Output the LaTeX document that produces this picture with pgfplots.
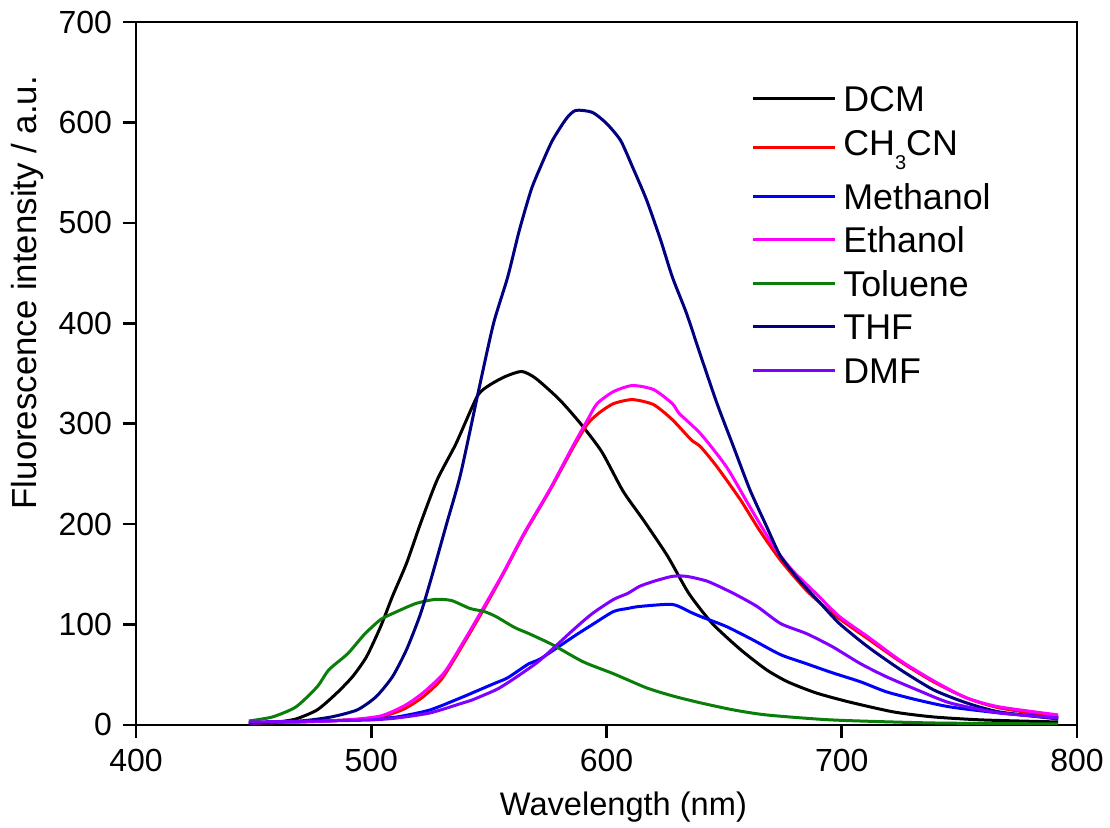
\documentclass[border=0pt]{standalone}
\usepackage{fontspec}
\setmainfont{Liberation Sans}
\usepackage{pgfplots}
\pgfplotsset{compat=1.18}
\definecolor{cthf}{HTML}{000080}
\definecolor{cgreen}{HTML}{0A7D0A}
\definecolor{cdmf}{HTML}{8000FF}
\definecolor{cred}{HTML}{FF0000}
\definecolor{cblue}{HTML}{0000FF}
\definecolor{cmag}{HTML}{FF00FF}
\begin{document}
\fontsize{16bp}{19bp}\selectfont
\begin{tikzpicture}
\begin{axis}[name=ax, scale only axis, width=470.5bp, height=351.5bp,
 xmin=400, xmax=800, ymin=0, ymax=700,
 xtick={400,500,...,800}, ytick={0,100,...,700},
 axis line style={line width=1.3bp},
 tick style={line width=1.3bp, black},
 tick align=outside, major tick length=6.5bp,
 xtick pos=bottom, ytick pos=left,
 /pgf/number format/assume math mode=true,
 /pgf/number format/1000 sep={},
 ticklabel style={font=\fontsize{16bp}{19bp}\selectfont},
 xlabel={Wavelength (nm)}, ylabel={Fluorescence intensity / a.u.},
 xlabel style={font=\fontsize{16.3bp}{19bp}\selectfont, at={(axis description cs:0.518,-0.1166)}, anchor=center},
 ylabel style={font=\fontsize{17.4bp}{20bp}\selectfont, at={(axis description cs:-0.1148,0.615)}, anchor=center},
 legend style={draw=none, fill=none, at={(axis description cs:0.6472,0.9185)}, anchor=north west,
   font=\fontsize{17.9bp}{21bp}\selectfont, row sep=6.75bp,
   nodes={inner xsep=3.5bp, inner ysep=1bp, text height=13bp, text depth=0bp}},
 legend cell align=left,
 legend image code/.code={\draw[#1] (0bp,0bp) -- (41bp,0bp);},
 every axis plot/.append style={line width=1.5bp, smooth, tension=0.4},
]
% DCM
\addplot[black] coordinates {
(448,2)(460,3)(468,6)(477,15)(485,31)(492,48)(498,68)(504,98)(509,128)(515,161)(521,201)(528,244)(536,280)(545,327)(550,338)(557,347)(564,352)(570,345)(580,324)(589,300)(598,272)(607,233)(616,203)(626,168)(635,131)(645,101)(657,75)(668,55)(677,43)(689,32)(703,23)(722,13)(739,8)(760,5)(792,3)};
\addlegendentry{DCM}
% CH3CN
\addplot[cred] coordinates {
(448,2)(470,3)(490,5)(504,8)(514,16)(522,28)(530,46)(539,80)(547,112)(556,150)(565,190)(576,234)(586,277)(592,300)(597,311)(603,320)(611,324)(620,319)(628,304)(636,284)(640,277)(647,257)(657,224)(665,194)(674,164)(685,134)(696,111)(711,86)(725,63)(739,43)(753,27)(767,17)(792,8)};
\addlegendentry[text depth=5.25bp]{CH\raisebox{-7bp}{\fontsize{10bp}{10bp}\selectfont 3}CN}
% Methanol
\addplot[cblue] coordinates {
(448,2)(480,4)(500,6)(511,8)(525,15)(539,28)(543,32)(553,42)(558,47)(567,61)(572,66)(586,88)(594,100)(603,113)(609,116)(614,118)(628,120)(636,112)(640,108)(651,98)(662,85)(674,70)(685,61)(696,52)(708,43)(719,33)(732,25)(746,18)(767,12)(792,7)};
\addlegendentry{Methanol}
% Ethanol
\addplot[cmag] coordinates {
(448,2)(470,3)(490,5)(504,9)(514,19)(522,32)(531,52)(539,82)(547,114)(556,151)(565,191)(576,235)(586,279)(592,304)(596,320)(603,332)(611,338)(620,334)(628,320)(631,310)(640,290)(651,257)(661,217)(671,178)(679,154)(689,131)(699,108)(711,88)(725,64)(739,44)(753,27)(767,18)(792,10)};
\addlegendentry{Ethanol}
% Toluene
\addplot[cgreen] coordinates {
(448,4)(458,8)(468,18)(477,38)(482,55)(490,71)(497,90)(504,105)(511,113)(519,121)(527,125)(534,124)(542,116)(548,113)(553,108)(561,97)(567,91)(577,80)(590,63)(603,51)(617,37)(628,29)(640,22)(654,15)(668,10)(696,5)(739,2)(792,1)};
\addlegendentry{Toluene}
% THF
\addplot[cthf] coordinates {
(448,2)(470,4)(483,8)(494,15)(502,28)(509,48)(515,75)(521,111)(526,150)(532,200)(538,250)(546,337)(552,400)(558,446)(563,493)(568,533)(572,556)(577,582)(583,604)(587,612)(594,610)(600,599)(606,582)(611,556)(617,523)(623,483)(628,446)(634,410)(640,368)(647,320)(654,277)(661,234)(668,198)(674,168)(682,144)(691,121)(699,101)(711,78)(725,55)(739,35)(753,22)(767,13)(792,6)};
\addlegendentry{THF}
% DMF
\addplot[cdmf] coordinates {
(448,3)(480,4)(500,5)(511,7)(525,12)(539,22)(543,25)(553,35)(558,42)(565,53)(572,65)(586,95)(594,111)(603,125)(609,131)(614,138)(620,143)(628,148)(634,148)(643,143)(654,131)(664,118)(674,101)(685,91)(696,78)(708,61)(719,48)(732,35)(746,22)(767,12)(792,7)};
\addlegendentry{DMF}
\end{axis}
\pgfresetboundingbox
\path[use as bounding box] ([shift={(-68bp,-51.5bp)}]ax.south west) rectangle ([shift={(16.5bp,11bp)}]ax.north east);
\end{tikzpicture}
\end{document}
